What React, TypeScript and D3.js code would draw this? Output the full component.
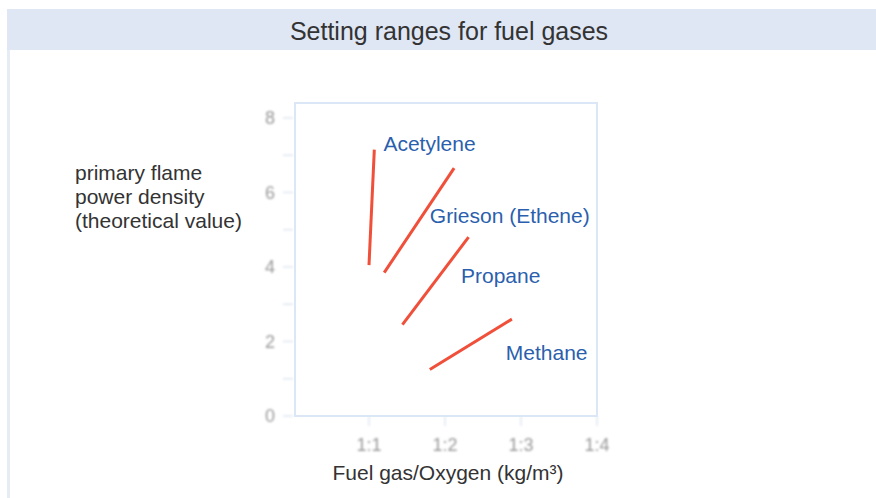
import * as d3 from 'd3'
import React from 'react'

// Gas names and the two ends of each setting range (x = fuel gas/oxygen ratio, y = power density)
const gases = ['Acetylene', 'Grieson (Ethene)', 'Propane', 'Methane']
const xStart = [1.0, 1.2, 1.44, 1.8]
const yStart = [4.05, 3.85, 2.45, 1.25]
const xEnd = [1.07, 2.12, 2.31, 2.88]
const yEnd = [7.15, 6.65, 4.8, 2.6]
// label anchor (left, middle) in data units
const labelX = [1.19, 1.8, 2.21, 2.8]
const labelY = [7.3, 5.38, 3.77, 1.7]

const xTicks = [1, 2, 3, 4]
const xTickLabels = ['1:1', '1:2', '1:3', '1:4']
const yTicks = [0, 2, 4, 6, 8]
const yLabelLines = ['primary flame', 'power density', '(theoretical value)']

const W = 876
const H = 498
const font = '"Liberation Sans", Arial, sans-serif'

const App = () => {
    const x = d3.scaleLinear().domain([0, 4]).range([293, 597])
    const y = d3.scaleLinear().domain([0, 8.4]).range([416, 103])
    const line = d3.line<[number, number]>()
        .x((d) => x(d[0]))
        .y((d) => y(d[1]))

    return (
        <svg width={W} height={H} style={{ position: 'absolute', left: 0, top: 0 }} fontFamily={font}>
            <defs>
                <filter id="soft" x="-20%" y="-20%" width="140%" height="140%">
                    <feGaussianBlur stdDeviation="0.8" />
                </filter>
            </defs>
            <rect x={0} y={0} width={W} height={H} fill="#fff" />
            {/* header band */}
            <rect x={7} y={9} width={W - 7} height={41} fill="#dfe6f4" />
            <rect x={7} y={50} width={3} height={H - 50} fill="#e6ecf6" />
            <text x={449} y={40} textAnchor="middle" fontSize={25} fill="#333">
                Setting ranges for fuel gases
            </text>

            {/* plot frame */}
            <rect x={x(0) + 2} y={y(8.4)} width={x(4) - x(0) - 2} height={y(0) - y(8.4)}
                fill="#fff" stroke="#dbe7f6" strokeWidth={2} />

            {/* axis ticks, slightly soft like the original */}
            <g filter="url(#soft)">
                {d3.range(0, 9).map((v) => (
                    <line key={'yt' + v} x1={x(0) - 10} x2={x(0)} y1={y(v)} y2={y(v)}
                        stroke="#dfe6ef" strokeWidth={1.5} />
                ))}
                {yTicks.map((v) => (
                    <text key={'yl' + v} x={270} y={y(v)} dy="0.35em" textAnchor="middle"
                        fontSize={18} fill="#999">{v}</text>
                ))}
                {xTicks.map((v, i) => (
                    <g key={'xt' + v}>
                        <line x1={x(v)} x2={x(v)} y1={y(0)} y2={y(0) + 10} stroke="#dfe6ef" strokeWidth={1.5} />
                        <text x={x(v)} y={451} textAnchor="middle" fontSize={18} fill="#999">
                            {xTickLabels[i]}
                        </text>
                    </g>
                ))}
            </g>

            {/* ranges */}
            {gases.map((g, i) => (
                <g key={g}>
                    <path d={line([[xStart[i], yStart[i]], [xEnd[i], yEnd[i]]]) || ''}
                        stroke="#f04f3a" strokeWidth={3} fill="none" />
                    <text x={x(labelX[i])} y={y(labelY[i])} dy="0.35em" fontSize={21} fill="#2b5fae">
                        {g}
                    </text>
                </g>
            ))}

            {/* axis titles */}
            <text x={75} y={173} fontSize={21} fill="#333">
                {yLabelLines.map((l, i) => (
                    <tspan key={l} x={75} dy={i === 0 ? '0.35em' : 24}>{l}</tspan>
                ))}
            </text>
            <text x={448} y={473} dy="0.35em" textAnchor="middle" fontSize={21} fill="#333">
                Fuel gas/Oxygen (kg/m³)
            </text>
        </svg>
    )
}

export default App
